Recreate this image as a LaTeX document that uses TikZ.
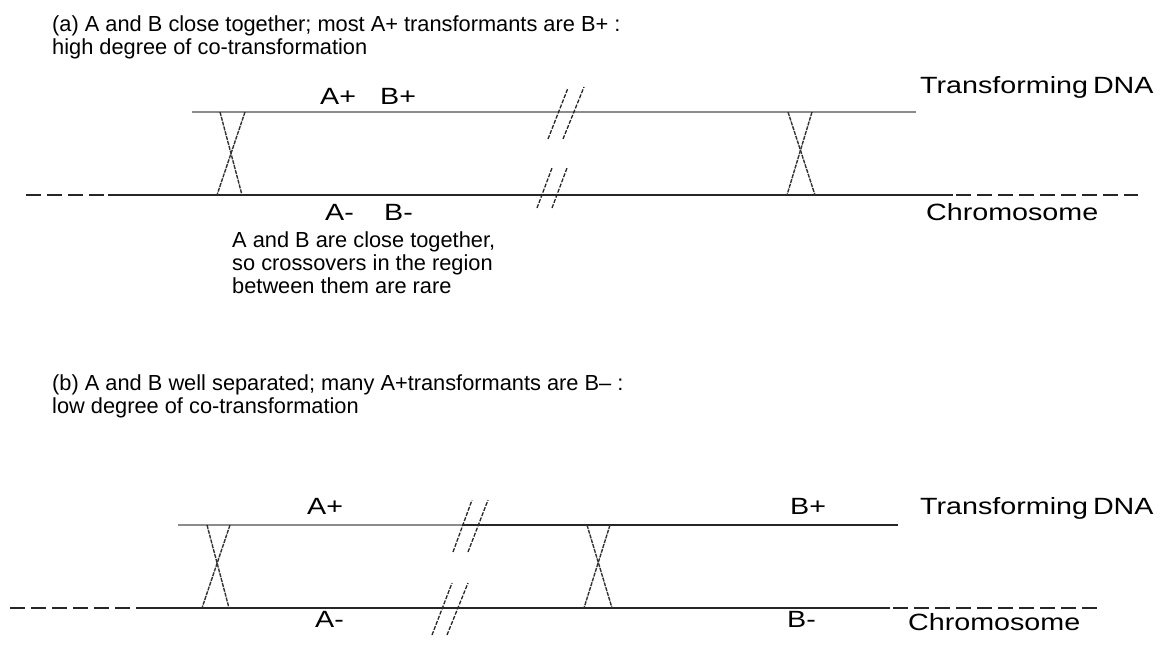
\documentclass[tikz,border=0pt]{standalone}
\usepackage{fontspec}
\setmainfont{Liberation Sans}
\newfontfamily\widefont[FakeStretch=1.22]{Liberation Sans}
\begin{document}
\begin{tikzpicture}[x=1pt,y=-1pt,
  lbl/.style={anchor=base west,inner sep=0pt,font=\fontsize{21.8}{23}\selectfont},
  tag/.style={anchor=base west,inner sep=0pt,font=\widefont\fontsize{23.5}{25}\selectfont},
  dna/.style={line width=1.6pt,draw=black!45},
  chrom/.style={line width=1.6pt,draw=black!85},
  chromdash/.style={line width=1.6pt,draw=black!85,dash pattern=on 15pt off 6pt},
  cross/.style={line width=1.4pt,draw=black!80,dash pattern=on 4pt off 1pt},
  brk/.style={line width=1.3pt,draw=black!85,dash pattern=on 4pt off 1.5pt}]
\useasboundingbox (0,0) rectangle (1164,647);
% ---------- panel (a)
\node[lbl] (ta1) at (52,32) {(a) A and B close together; most A+ transformants are B+ :};
\node[lbl] (ta2) at (52,55) {high degree of co-transformation};
\node[tag] (aAp) at (320,105) {A+};
\node[tag] (aBp) at (380,105) {B+};
\node[tag] (aTD) at (920,94) {Transforming\kern5pt DNA};
\node[tag] (aAm) at (325,220) {A-};
\node[tag] (aBm) at (384,220) {B-};
\node[tag] (aCh) at (926,221) {Chromosome};
\node[lbl] (n1) at (232,247) {A and B are close together,};
\node[lbl] (n2) at (232,270) {so crossovers in the region};
\node[lbl] (n3) at (232,293) {between them are rare};
\draw[dna] (192,112) -- (916,112);
\draw[chromdash] (26,195) -- (108,195);
\draw[chrom] (108,195) -- (953,195);
\draw[chromdash] (956,195) -- (1138,195);
\draw[cross] (220,112) -- (242,195);
\draw[cross] (245,112) -- (217,195);
\draw[cross] (788,112) -- (815,195);
\draw[cross] (812,112) -- (787,195);
\draw[brk] (548,139) -- (568,88);
\draw[brk] (563,139) -- (584,87);
\draw[brk] (537,208) -- (552,168);
\draw[brk] (552,208) -- (567,168);
% ---------- panel (b)
\node[lbl] (tb1) at (52,390) {(b) A and B well separated; many A+transformants are B\textendash\ :};
\node[lbl] (tb2) at (52,413) {low degree of co-transformation};
\node[tag] (bAp) at (307,514) {A+};
\node[tag] (bBp) at (790,514) {B+};
\node[tag] (bTD) at (920,514) {Transforming\kern5pt DNA};
\node[tag] (bAm) at (315,627) {A-};
\node[tag] (bBm) at (787,627) {B-};
\node[tag] (bCh) at (908,630) {Chromosome};
\draw[dna] (178,525) -- (462,525);
\draw[chrom] (462,525) -- (898,525);
\draw[chromdash] (10,608) -- (143,608);
\draw[chrom] (143,608) -- (890,608);
\draw[chromdash] (893,608) -- (1097,608);
\draw[cross] (207,525) -- (229,608);
\draw[cross] (230,525) -- (202,608);
\draw[cross] (587,525) -- (612,608);
\draw[cross] (610,525) -- (584,608);
\draw[brk] (453,552) -- (472,500);
\draw[brk] (468,552) -- (488,500);
\draw[brk] (432,635) -- (452,583);
\draw[brk] (447,635) -- (468,583);
\end{tikzpicture}
\end{document}
